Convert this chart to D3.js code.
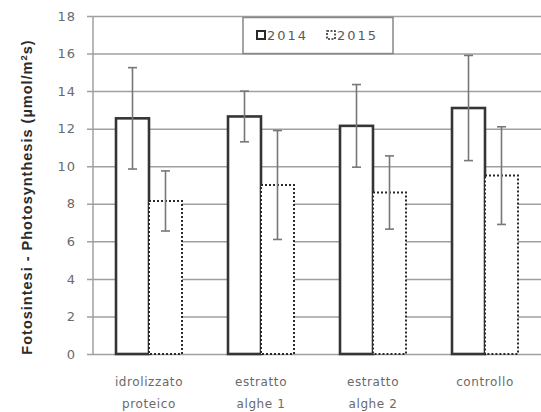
<!DOCTYPE html>
<html>
<head>
<meta charset="utf-8">
<script src="https://cdn.jsdelivr.net/npm/d3@7"></script>
<style>
  html, body { margin: 0; padding: 0; background: #fff; }
  svg { display: block; }
</style>
</head>
<body>
<svg id="chart" width="541" height="412"></svg>
<script>
// Photosynthesis by treatment, two seasons (mean ± error)
const categories = [["idrolizzato", "proteico"], ["estratto", "alghe 1"], ["estratto", "alghe 2"], ["controllo"]];
const seriesNames = ["2014", "2015"];
const values2014 = [12.55, 12.65, 12.15, 13.1];
const errors2014 = [2.7, 1.35, 2.2, 2.8];
const values2015 = [8.15, 9.0, 8.6, 9.5];
const errors2015 = [1.6, 2.9, 1.95, 2.6];
const yTicks = [0, 2, 4, 6, 8, 10, 12, 14, 16, 18];

const svg = d3.select("#chart");
const margin = { left: 93, right: 0, top: 16, bottom: 58 };
const W = 541, H = 412;
const font = "'DejaVu Sans', Verdana, sans-serif";
const titleFont = "'Liberation Sans', Arial, sans-serif";

const x0 = d3.scaleBand()
  .domain(d3.range(categories.length))
  .range([margin.left, W - margin.right])
  .padding(0);
const x1 = d3.scaleBand()
  .domain(seriesNames)
  .range([x0.bandwidth() / 2 - 33, x0.bandwidth() / 2 + 33])
  .padding(0);
const y = d3.scaleLinear().domain([0, 18]).range([H - margin.bottom, margin.top]);

// horizontal gridlines with outward tick marks
const yAxis = d3.axisLeft(y)
  .tickValues(yTicks)
  .tickSize(0)
  .tickPadding(0);
const gy = svg.append("g")
  .attr("transform", `translate(${margin.left - 6},0)`)
  .call(yAxis);
gy.select(".domain").remove();
gy.selectAll(".tick line")
  .attr("x1", 0)
  .attr("x2", W - margin.left + 6)
  .attr("stroke", "#a0a0a0")
  .attr("stroke-width", 1.5);
gy.selectAll(".tick text")
  .attr("x", -11)
  .attr("fill", "#6a6a6a")
  .style("font-family", font)
  .style("font-size", "13px")
  .style("letter-spacing", "1px");

// vertical axis line
svg.append("line")
  .attr("x1", margin.left).attr("x2", margin.left)
  .attr("y1", y(18)).attr("y2", y(0))
  .attr("stroke", "#a0a0a0").attr("stroke-width", 1.5);

// bars
const rows = categories.map((c, i) => ({
  i,
  items: [
    { s: "2014", v: values2014[i], e: errors2014[i] },
    { s: "2015", v: values2015[i], e: errors2015[i] }
  ]
}));

const groups = svg.append("g").selectAll("g")
  .data(rows).join("g")
  .attr("transform", d => `translate(${x0(d.i)},0)`);

groups.selectAll("rect")
  .data(d => d.items).join("rect")
  .attr("x", d => x1(d.s))
  .attr("y", d => y(d.v))
  .attr("width", x1.bandwidth())
  .attr("height", d => y(0) - y(d.v))
  .attr("fill", "#fff")
  .attr("stroke", d => d.s === "2014" ? "#353535" : "#2a2a2a")
  .attr("stroke-width", d => d.s === "2014" ? 2.6 : 2)
  .attr("stroke-dasharray", d => d.s === "2014" ? null : "2,2");

// error bars
const eb = groups.selectAll("g.err")
  .data(d => d.items).join("g").attr("class", "err")
  .attr("stroke", "#777").attr("stroke-width", 1.6);
eb.append("line")
  .attr("x1", d => x1(d.s) + x1.bandwidth() / 2)
  .attr("x2", d => x1(d.s) + x1.bandwidth() / 2)
  .attr("y1", d => y(d.v + d.e))
  .attr("y2", d => y(d.v - d.e));
[1, -1].forEach(sign => {
  eb.append("line")
    .attr("x1", d => x1(d.s) + x1.bandwidth() / 2 - 4.5)
    .attr("x2", d => x1(d.s) + x1.bandwidth() / 2 + 4.5)
    .attr("y1", d => y(d.v + sign * d.e))
    .attr("y2", d => y(d.v + sign * d.e));
});

// category labels
const lab = svg.append("g").selectAll("text")
  .data(categories).join("text")
  .attr("x", (d, i) => x0(i) + x0.bandwidth() / 2)
  .attr("y", 386)
  .attr("text-anchor", "middle")
  .attr("fill", "#6a6a6a")
  .style("font-family", font)
  .style("font-size", "12px")
  .style("letter-spacing", "0.6px");
lab.selectAll("tspan")
  .data(d => d).join("tspan")
  .attr("x", function () { return this.parentNode.getAttribute("x"); })
  .attr("dy", (d, j) => j === 0 ? 0 : 22)
  .text(d => d);

// y-axis title
const title = svg.append("text")
  .attr("transform", `translate(32,${(38 + 356) / 2}) rotate(-90)`)
  .attr("text-anchor", "middle")
  .attr("fill", "#2b2b2b")
  .style("font-family", titleFont)
  .style("font-size", "14.5px")
  .style("font-weight", "bold")
  .style("letter-spacing", "1px");
title.append("tspan").text("Fotosintesi - Photosynthesis (µmol/m");
title.append("tspan").attr("dy", -5).style("font-size", "9.5px").text("2");
title.append("tspan").attr("dy", 5).text("s)");

// legend
const lg = svg.append("g");
lg.append("rect")
  .attr("x", 243).attr("y", y(18) + 1.5)
  .attr("width", 150).attr("height", y(16) - y(18) - 1.5)
  .attr("fill", "#fff").attr("stroke", "#878787").attr("stroke-width", 1.5);
const legendItems = [
  { s: "2014", x: 257 },
  { s: "2015", x: 327 }
];
legendItems.forEach(it => {
  lg.append("rect")
    .attr("x", it.x).attr("y", 31)
    .attr("width", 8).attr("height", 8)
    .attr("fill", "#fff")
    .attr("stroke", "#2a2a2a")
    .attr("stroke-width", it.s === "2014" ? 2 : 1.6)
    .attr("stroke-dasharray", it.s === "2014" ? null : "2,1.5");
  lg.append("text")
    .attr("x", it.x + 10).attr("y", 40)
    .attr("fill", "#5a5a5a")
    .style("font-family", font)
    .style("font-size", "13px")
    .style("letter-spacing", "2px")
    .text(it.s);
});
</script>
</body>
</html>
